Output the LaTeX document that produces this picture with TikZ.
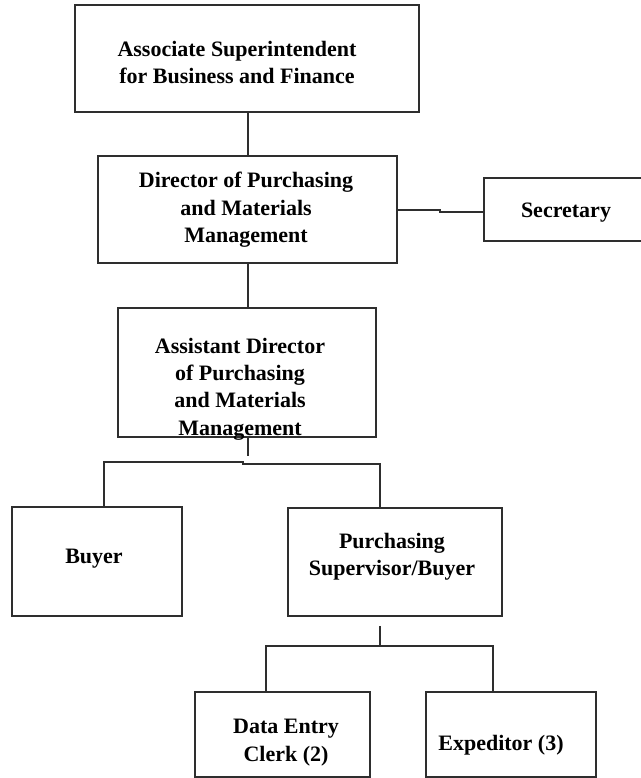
\documentclass[tikz,border=0pt]{standalone}
\usepackage{fontspec}
\setmainfont{Liberation Serif}
\usetikzlibrary{fit}
\definecolor{linec}{HTML}{2E2E2E}
\begin{document}
\begin{tikzpicture}[x=0.75pt,y=-0.75pt,
  box/.style={draw=linec, line width=1.4pt, inner sep=0pt},
  conn/.style={draw=linec, line width=1.4pt},
  lbl/.style={font=\fontsize{16.5}{20.6}\selectfont\bfseries, align=center, inner sep=0pt, text=black}]
\useasboundingbox (0,0) rectangle (641,778);
\clip (0,0) rectangle (641,778);
% boxes
\node[box, fit={(75,5) (419,112)}] (b1) {};
\node[box, fit={(98,156) (397,263)}] (b2) {};
\node[box, fit={(484,178) (670,241)}] (sec) {};
\node[box, fit={(118,308) (376,437)}] (b3) {};
\node[box, fit={(12,507) (182,616)}] (buyer) {};
\node[box, fit={(288,508) (502,616)}] (ps) {};
\node[box, fit={(195,692) (370,777)}] (de) {};
\node[box, fit={(426,692) (596,777)}] (ex) {};
% labels
\node[lbl] (t1) at (237,62.5) {Associate Superintendent\\for Business and Finance};
\node[lbl] (t2) at (246,210) {Director of Purchasing\\and Materials\\Management};
\node[lbl, anchor=base] (t3) at (566,217) {Secretary};
\node[lbl] (t4) at (240,389) {Assistant Director\\of Purchasing\\and Materials\\Management};
\node[lbl, anchor=base] (t5) at (94,563) {Buyer};
\node[lbl] (t6) at (392,557) {Purchasing\\Supervisor/Buyer};
\node[lbl] (t7) at (286,742.5) {Data Entry\\Clerk (2)};
\node[lbl, anchor=base] (t8) at (501,750) {Expeditor (3)};
% connectors
\coordinate (xm) at (248,0);
\draw[conn] (xm |- b1.south) -- (xm |- b2.north);
\draw[conn] (xm |- b2.south) -- (xm |- b3.north);
\coordinate (s1) at (440,210);
\coordinate (s2) at (440,212);
\draw[conn] (b2.east |- s1) -- (s1) -- (s2) -- (sec.west |- s2);
\coordinate (bj) at (248,462);
\draw[conn, shorten >=4.5pt] (xm |- b3.south) -- (bj);
\coordinate (L) at (104,462);
\coordinate (Lm) at (243,462);
\coordinate (Rm) at (243,464);
\coordinate (R) at (380,464);
\draw[conn] (L |- buyer.north) -- (L) -- (Lm) -- (Rm) -- (R) -- (R |- ps.north);
\coordinate (P) at (380,646);
\draw[conn, shorten <=6.75pt] (P |- ps.south) -- (P);
\coordinate (DL) at (266,646);
\coordinate (DR) at (493,646);
\draw[conn] (DL |- de.north) -- (DL) -- (DR) -- (DR |- ex.north);
\end{tikzpicture}
\end{document}
